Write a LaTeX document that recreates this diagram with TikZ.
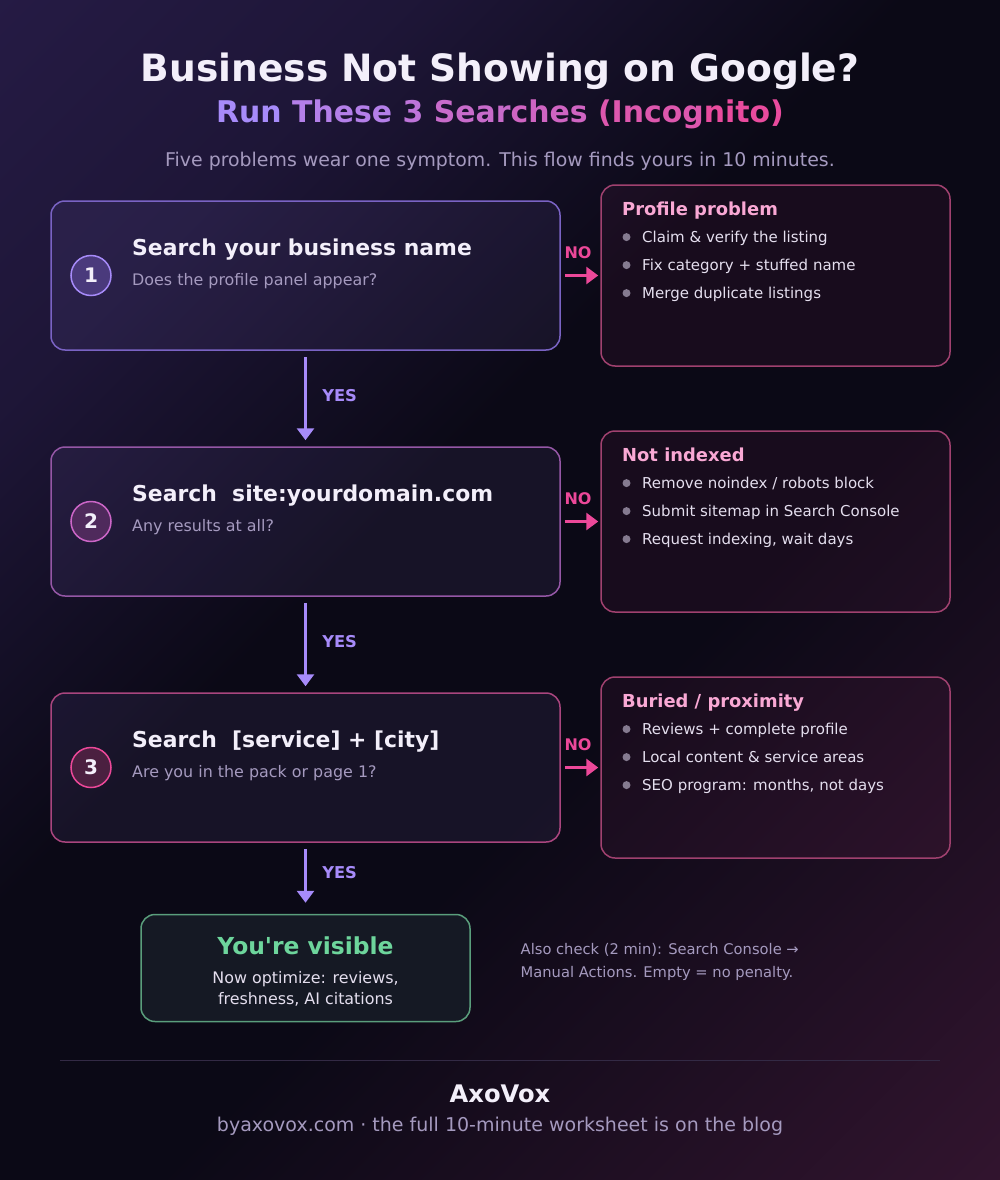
\documentclass[tikz,border=0pt]{standalone}
\usepackage{fontspec}
\setmainfont{DejaVu Sans}
\usetikzlibrary{arrows.meta,positioning}
\definecolor{bgTL}{HTML}{2D2052}
\definecolor{bgMid}{HTML}{0B0916}
\definecolor{bgBR}{HTML}{461A3B}
\definecolor{lav}{HTML}{A78BFA}
\definecolor{hot}{HTML}{EC4899}
\definecolor{ring2}{HTML}{CC66C8}
\definecolor{disc1}{HTML}{4A3A7C}
\definecolor{disc2}{HTML}{4F2A5C}
\definecolor{disc3}{HTML}{4B2040}
\definecolor{edge1}{HTML}{7A63C4}
\definecolor{edge2}{HTML}{9557A6}
\definecolor{edge3}{HTML}{A9457E}
\definecolor{fixedge}{HTML}{A0416F}
\definecolor{fixhead}{HTML}{F9A8D4}
\definecolor{dotgray}{HTML}{857B90}
\definecolor{bullettxt}{HTML}{E4DEEE}
\definecolor{headtxt}{HTML}{F3EFFA}
\definecolor{subtxt}{HTML}{A59ABF}
\definecolor{greenedge}{HTML}{5A9E7C}
\definecolor{greentxt}{HTML}{6DD59C}
\definecolor{visfill}{HTML}{151924}
\definecolor{rule}{HTML}{332A45}
\pgfdeclarehorizontalshading{bgshade}{100bp}{color(0bp)=(bgTL); color(28bp)=(bgTL!55!bgMid);
  color(44bp)=(bgMid); color(58bp)=(bgMid); color(100bp)=(bgBR)}

\begin{document}
\begin{tikzpicture}[x=1pt,y=-1pt,>={Triangle[length=12pt,width=17pt]},
    stepbox/.style={draw=#1,line width=1.5pt,rounded corners=14pt,fill=lav,fill opacity=.08,
      minimum width=509pt,minimum height=149pt,inner sep=0pt},
    fixbox/.style={draw=fixedge,line width=1.5pt,rounded corners=14pt,fill=hot,fill opacity=.06,
      minimum width=349pt,minimum height=181pt,inner sep=0pt},
    numdisc/.style={circle,line width=1.5pt,minimum size=40pt,inner sep=0pt,text=headtxt,
      font=\fontsize{20}{20}\selectfont\bfseries},
    headtxt/.style={anchor=base west,inner sep=0pt,text=headtxt,font=\fontsize{21.9}{21.9}\selectfont\bfseries},
    asktxt/.style={anchor=base west,inner sep=0pt,text=subtxt,font=\fontsize{15.9}{15.9}\selectfont},
    fixhead/.style={anchor=base west,inner sep=0pt,text=fixhead,font=\fontsize{17.9}{17.9}\selectfont\bfseries},
    bullettxt/.style={anchor=base west,inner sep=0pt,text=bullettxt,font=\fontsize{15}{15}\selectfont},
    yesarrow/.style={->,draw=lav,line width=3.5pt,shorten <=6pt,shorten >=6pt},
    noarrow/.style={->,draw=hot,line width=3.5pt,shorten <=4pt,shorten >=2pt},
    yestag/.style={inner sep=0pt,text=lav,font=\fontsize{16.3}{16.3}\selectfont\bfseries},
    notag/.style={inner sep=0pt,text=hot,font=\fontsize{16}{16}\selectfont\bfseries},
    notetxt/.style={anchor=base west,inner sep=0pt,text=subtxt,font=\fontsize{14.7}{14.7}\selectfont}]
  % background
  \useasboundingbox (0,0) rectangle (1000,1180);
  \fill[shading=bgshade,shading angle=-45] (0,0) rectangle (1000,1180);
  % title block
  \node[anchor=base,inner sep=0pt,text=headtxt,font=\fontsize{37.6}{37.6}\selectfont\bfseries] (title) at (500,82) {Business Not Showing on Google?};
  \node[anchor=base,inner sep=0pt,font=\fontsize{29.9}{29.9}\selectfont\bfseries] (subtitle) at (500,123)
    {\color{lav}Run \color{lav!82!hot}These \color{lav!66!hot}3 \color{lav!52!hot}Sear\color{lav!42!hot}ches
     \color{lav!22!hot}(Incog\color{lav!5!hot}nito)};
  \node[anchor=base,inner sep=0pt,text=subtxt,font=\fontsize{18.9}{18.9}\selectfont] (tagline) at (500,166)
    {Five problems wear one symptom. This flow finds yours in 10 minutes.};
  % the three searches
  \foreach \i/\y/\edge/\ring/\disc/\head/\ask in {
      1/275.5/edge1/lav/disc1/{Search your business name}/{Does the profile panel appear?},
      2/521.5/edge2/ring2/disc2/{Search\ \ site:yourdomain.com}/{Any results at all?},
      3/767.5/edge3/hot/disc3/{Search\ \ [service] + [city]}/{Are you in the pack or page 1?}}
  {
    \node[stepbox=\edge] (step\i) at (305.5,\y) {};
    \node[numdisc,draw=\ring,fill=\disc] (num\i) at (91,\y) {\i};
    \node[headtxt] (head\i) at (132,\y-20) {\head};
    \node[asktxt] (ask\i) at (132,\y+10) {\ask};
  }
  % what to fix
  \foreach \i/\y/\title/\a/\b/\c in {
      1/275.5/{Profile problem}/{Claim \& verify the listing}/{Fix category + stuffed name}/{Merge duplicate listings},
      2/521.5/{Not indexed}/{Remove noindex / robots block}/{Submit sitemap in Search Console}/{Request indexing, wait days},
      3/767.5/{Buried / proximity}/{Reviews + complete profile}/{Local content \& service areas}/{SEO program: months, not days}}
  {
    \node[fixbox] (fix\i) at (775.5,\y) {};
    \node[fixhead] (fixhead\i) at (622,\y-60.5) {\title};
    \foreach \t [count=\k from 0] in {\a,\b,\c} {
      \fill[dotgray] (626.5,\y-38.4+28*\k) circle (4);
      \node[bullettxt] (item\i\k) at (642,\y-33+28*\k) {\t};
    }
    \draw[noarrow] (step\i.east) -- (step\i.east -| fix\i.west)
      node[notag,midway,above=15.5pt,xshift=-2.5pt] (no\i) {NO};
  }
  % end of the flow
  \node[draw=greenedge,line width=1.5pt,rounded corners=14pt,fill=visfill,minimum width=329pt,
    minimum height=107pt,inner sep=0pt] (visible) at (305.5,968) {};
  \node[anchor=base,inner sep=0pt,text=greentxt,font=\fontsize{23.4}{23.4}\selectfont\bfseries] (vistitle) at (305.5,954.3) {You\textquotesingle re visible};
  \node[anchor=base,inner sep=0pt,text=bullettxt,font=\fontsize{15.9}{15.9}\selectfont] (vis1) at (305.5,983.3) {Now optimize: reviews,};
  \node[anchor=base,inner sep=0pt,text=bullettxt,font=\fontsize{15.9}{15.9}\selectfont] (vis2) at (305.5,1004.3) {freshness, AI citations};
  \draw[yesarrow] (step1) -- (step2) node[yestag,midway,right=15pt,yshift=2.5pt] (yes1) {YES};
  \draw[yesarrow] (step2) -- (step3) node[yestag,midway,right=15pt,yshift=2.5pt] (yes2) {YES};
  \draw[yesarrow,shorten >=11pt] (step3) -- (visible) node[yestag,midway,right=15pt,yshift=6pt] (yes3) {YES};
  \node[notetxt] (note1) at (520.5,954) {Also check (2 min): Search Console →};
  \node[notetxt] (note2) at (520.5,977.3) {Manual Actions. Empty = no penalty.};
  % footer
  \draw[rule,line width=1pt] (60,1060.5) -- (940,1060.5);
  \node[anchor=base,inner sep=0pt,text=headtxt,font=\fontsize{24.2}{24.2}\selectfont\bfseries] (brand) at (500,1102.3) {AxoVox};
  \node[anchor=base,inner sep=0pt,text=subtxt,font=\fontsize{19}{19}\selectfont] (site) at (500,1131)
    {byaxovox.com · the full 10-minute worksheet is on the blog};
\end{tikzpicture}
\end{document}
